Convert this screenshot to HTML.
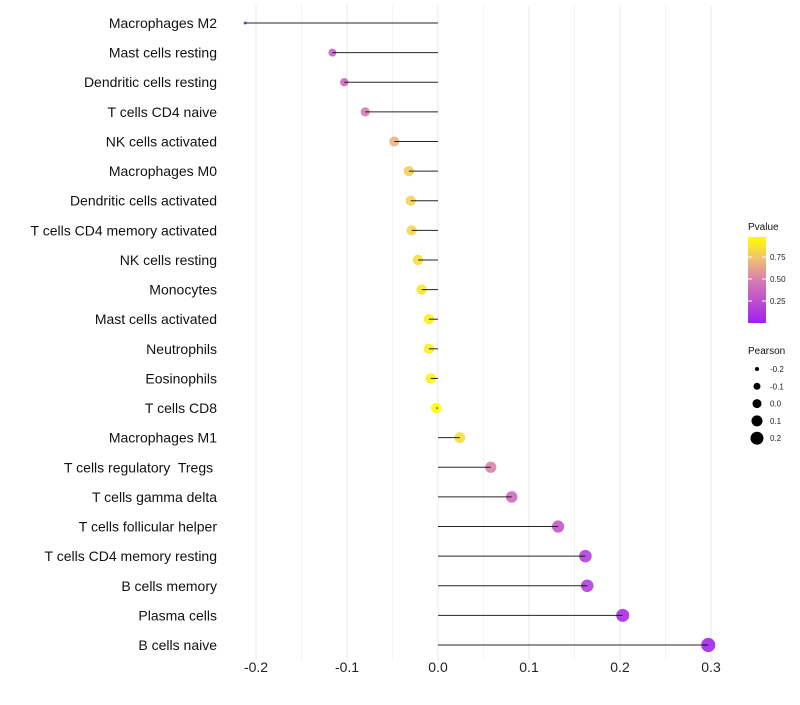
<!DOCTYPE html>
<html><head><meta charset="utf-8"><style>
body{margin:0;background:#fff;font-family:"Liberation Sans",sans-serif}
text{white-space:pre}
</style></head><body>
<svg id="c" width="800" height="700" xmlns="http://www.w3.org/2000/svg"></svg>
<script>
const categories=["Macrophages M2","Mast cells resting","Dendritic cells resting","T cells CD4 naive","NK cells activated","Macrophages M0","Dendritic cells activated","T cells CD4 memory activated","NK cells resting","Monocytes","Mast cells activated","Neutrophils","Eosinophils","T cells CD8","Macrophages M1","T cells regulatory  Tregs ","T cells gamma delta","T cells follicular helper","T cells CD4 memory resting","B cells memory","Plasma cells","B cells naive"];
const pearson=[-0.212,-0.116,-0.103,-0.080,-0.048,-0.032,-0.030,-0.029,-0.022,-0.018,-0.010,-0.010,-0.008,-0.002,0.024,0.058,0.081,0.132,0.162,0.164,0.203,0.297];
const pvalue=[0.02,0.35,0.40,0.50,0.70,0.80,0.82,0.83,0.87,0.90,0.94,0.94,0.95,0.99,0.86,0.52,0.40,0.30,0.18,0.16,0.07,0.03];
const xTicks=[-0.2,-0.1,0.0,0.1,0.2,0.3];
const xTickLabels=["-0.2","-0.1","0.0","0.1","0.2","0.3"];
const pTicks=[0.25,0.5,0.75];
const sizeTicks=[-0.2,-0.1,0.0,0.1,0.2];

const NS="http://www.w3.org/2000/svg",svg=document.getElementById('c');
function el(t,a,p){const e=document.createElementNS(NS,t);for(const k in a)e.setAttribute(k,a[k]);(p||svg).appendChild(e);return e;}
const X=v=>438+v*910;
const Y=i=>23+i*(622/(categories.length-1));
function R(v){const a=[[-0.212,1.5],[-0.116,4],[-0.05,5],[0.3,7.1]];
 if(v<=a[0][0])return a[0][1];
 for(let i=0;i<a.length-1;i++){if(v<=a[i+1][0]){const t=(v-a[i][0])/(a[i+1][0]-a[i][0]);return a[i][1]+t*(a[i+1][1]-a[i][1]);}}
 return a[a.length-1][1];}
function lerp(a,b,t){return a.map((x,i)=>Math.round(x+(b[i]-x)*t));}
function col(p){const s=[[160,32,240],[215,125,175],[238,186,128],[255,255,0]];const st=[0,0.5,0.72,1];
 for(let i=0;i<3;i++){if(p<=st[i+1]){const c=lerp(s[i],s[i+1],(p-st[i])/(st[i+1]-st[i]));return `rgb(${c})`;}}return 'rgb(255,255,0)';}
for(let v=-0.2;v<=0.31;v+=0.05){const g=el('line',{x1:X(v),x2:X(v),y1:5,y2:660,stroke:'#ebebeb','stroke-width':Math.abs(Math.round(v*20)%2)===1?0.6:1.1});
}
xTicks.forEach((v,i)=>{const t=el('text',{x:X(v),y:672,'text-anchor':'middle','font-size':14,fill:'#222'});t.textContent=xTickLabels[i];
});
categories.forEach((c,i)=>{
 const t=el('text',{x:217,y:Y(i)+5,'text-anchor':'end','font-size':14,fill:'#111'});t.textContent=c;
 
 const d=el('circle',{cx:X(pearson[i]),cy:Y(i),r:R(pearson[i]),fill:col(pvalue[i]),opacity:0.9});
 
 const l=el('line',{x1:X(0),x2:X(pearson[i]),y1:Y(i),y2:Y(i),stroke:'#000','stroke-width':1,opacity:0.85});
 
});
const defs=el('defs',{});const lg=el('linearGradient',{id:'pg',x1:0,y1:1,x2:0,y2:0},defs);
[0,0.25,0.5,0.75,1].forEach(p=>el('stop',{offset:p,'stop-color':col(p)},lg));
let t=el('text',{x:748,y:230,'font-size':10,fill:'#111'});t.textContent='Pvalue';
const bar=el('rect',{x:748,y:237,width:18,height:86,fill:'url(#pg)'});
const PY=p=>323-p*88;
pTicks.forEach(p=>{el('line',{x1:748,x2:752,y1:PY(p),y2:PY(p),stroke:'#fff'});el('line',{x1:762,x2:766,y1:PY(p),y2:PY(p),stroke:'#fff'});
 const tt=el('text',{x:770,y:PY(p)+3,'font-size':8,fill:'#222'});tt.textContent=p.toFixed(2);});
t=el('text',{x:748,y:354,'font-size':10,fill:'#111'});t.textContent='Pearson';
const legR=[2,3.5,4.5,5.5,6.5];
sizeTicks.forEach((v,i)=>{const cy=369+i*17.3;const c=el('circle',{cx:757,cy:cy,r:legR[i],fill:'#000'});
 const tt=el('text',{x:770,y:cy+3,'font-size':8,fill:'#222'});tt.textContent=v.toFixed(1);});
</script>
</body></html>
